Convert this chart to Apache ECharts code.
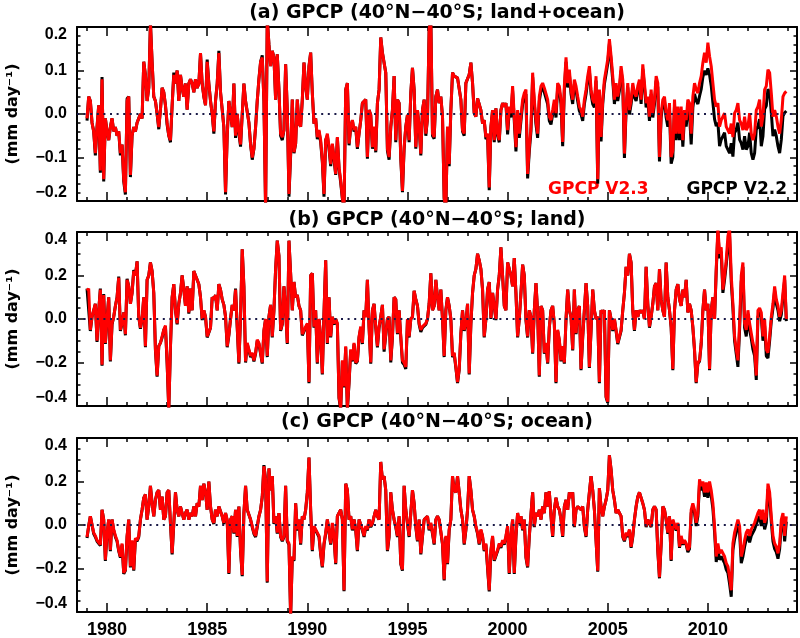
<!DOCTYPE html>
<html><head><meta charset="utf-8">
<script src="https://cdn.jsdelivr.net/npm/echarts@6/dist/echarts.min.js"></script>
<style>html,body{margin:0;padding:0;background:#fff}#c{width:800px;height:638px}</style>
</head><body><div id="c"></div>
<script>
// ---------- data (monthly anomalies, mm/day, Jan 1979 - Dec 2013) ----------
const startYear = 1979;
const xLabelYears = [1980,1985,1990,1995,2000,2005,2010];
const yTicksA = [-0.2,-0.1,0,0.1,0.2];
const yTicksBC = [-0.4,-0.2,0,0.2,0.4];
const panelTitles = ['(a) GPCP (40\u00B0N\u221240\u00B0S; land+ocean)','(b) GPCP (40\u00B0N\u221240\u00B0S; land)','(c) GPCP (40\u00B0N\u221240\u00B0S; ocean)'];
const seriesNames = ['GPCP V2.2','GPCP V2.3'];
const yAxisName = '(mm day\u207B\u00B9)';

const aV23 = [
-.01,.04,.03,-.02,-.04,-.09,-.03,.02,-.13,.08,-.15,-.01,
-.04,-.06,-.03,-.01,-.04,-.03,-.05,-.04,-.09,-.07,-.15,-.18,
.03,.04,-.14,-.05,-.03,-.04,-.02,-.01,0,-.01,.12,.09,
.03,.06,.21,.12,.04,.03,0,-.03,.01,.06,.05,.02,
-.02,-.05,-.06,.02,.09,.07,.1,.03,.09,.06,.04,.07,
.01,.07,.08,.07,.05,.08,.06,.07,.14,.07,.04,.02,
.12,.07,.03,0,-.04,.03,.07,.14,.05,.01,-.03,-.18,
-.05,.03,.03,-.03,.07,-.05,0,-.04,-.07,0,.07,.03,
.03,-.02,-.07,-.1,-.08,-.03,.03,.08,.12,.13,.03,-.22,
.22,.16,.11,.145,.13,.033,.137,.056,-.045,-.053,-.037,.114,
.009,-.184,-.091,.033,-.088,-.068,.033,-.022,-.029,.033,.118,.064,
.033,.11,.141,.048,-.022,-.01,-.053,-.037,-.06,-.107,-.184,-.06,
-.045,-.076,-.115,-.068,-.099,-.138,-.053,-.122,-.153,-.192,-.22,.056,
.071,-.068,-.029,-.014,-.037,-.029,-.076,-.045,-.014,.025,.029,.033,
-.099,.009,-.002,-.076,-.029,-.084,.025,.056,.176,.141,.145,.095,
-.08,-.099,-.029,.009,.087,-.06,.033,.025,-.099,-.177,-.076,-.029,
-.002,-.06,.048,.106,.056,-.076,.009,-.029,-.091,.009,.033,-.045,
-.01,.195,.22,-.045,-.053,.04,.056,.025,.04,-.006,-.192,-.22,
-.029,-.115,.009,.095,.087,.083,.083,.079,.033,-.037,-.045,.071,
.075,.091,.118,.071,.002,-.006,.036,.033,.009,-.022,-.014,-.053,
-.045,-.169,-.029,.009,-.06,.013,-.045,-.06,.009,.025,.017,.025,
-.037,.017,.002,.064,.064,-.076,.009,-.045,-.006,.033,.048,.056,
-.138,-.076,-.03,.095,.033,-.014,-.045,.04,.064,.071,.06,.056,
.033,-.006,-.014,.009,.033,.002,.071,.064,.033,-.064,.064,.13,
.071,.102,.056,.033,.079,.064,.04,.017,.009,-.006,.033,.056,
.087,.11,.056,.033,.025,.087,-.15,.056,-.053,.033,.079,.102,
.126,.172,.133,.087,.033,.071,.04,.064,.11,.079,-.091,.017,
.071,.009,.033,.071,.048,.04,.064,.079,.033,.114,.071,.025,
.04,-.006,.056,.002,.033,.087,.071,-.099,.002,.033,.04,.002,
-.014,.025,-.099,-.084,.033,-.045,.017,-.045,.017,-.06,.009,-.014,
.033,.025,-.045,.04,.071,.056,.048,.071,.087,.118,.141,.118,
.164,.133,.11,.071,.033,.017,.025,-.029,-.014,-.006,.002,-.029,
-.029,-.045,-.022,-.053,.002,.009,.025,-.014,-.022,-.037,-.006,-.037,
-.029,.002,-.045,-.06,-.045,.009,.017,.033,-.029,-.006,.056,.064,
.102,.095,.048,-.006,.009,-.006,-.029,-.045,-.014,.04,.048,.052];

const aV22 = [
-.015,.04,.03,-.02,-.04,-.095,-.03,.02,-.135,.085,-.155,-.01,
-.04,-.06,-.03,-.01,-.04,-.03,-.05,-.04,-.095,-.07,-.155,-.185,
.035,.04,-.145,-.05,-.03,-.04,-.02,-.01,0,-.01,.12,.09,
.03,.06,.21,.12,.04,.03,0,-.035,.01,.06,.05,.02,
-.025,-.05,-.065,.02,.095,.07,.1,.03,.09,.06,.04,.07,
.01,.07,.08,.07,.05,.08,.06,.07,.14,.07,.04,.02,
.125,.07,.03,0,-.045,.03,.07,.145,.05,.01,-.03,-.185,
-.05,.03,.03,-.03,.07,-.055,0,-.045,-.075,0,.07,.03,
.03,-.02,-.07,-.105,-.08,-.03,.03,.08,.12,.135,.03,-.22,
.22,.16,.11,.145,.13,.033,.137,.056,-.05,-.06,-.037,.114,
.009,-.19,-.095,.033,-.09,-.068,.033,-.022,-.029,.033,.118,.064,
.033,.11,.141,.048,-.022,-.01,-.058,-.04,-.065,-.11,-.19,-.06,
-.05,-.08,-.12,-.07,-.105,-.14,-.055,-.125,-.158,-.195,-.22,.056,
.071,-.072,-.03,-.015,-.04,-.03,-.08,-.045,-.015,.025,.029,.033,
-.103,.009,-.002,-.08,-.03,-.088,.025,.056,.176,.141,.145,.095,
-.085,-.105,-.03,.009,.087,-.065,.033,.025,-.103,-.18,-.08,-.03,
-.002,-.065,.048,.106,.056,-.08,.009,-.03,-.095,.009,.033,-.05,
-.01,.195,.22,-.05,-.057,.04,.056,.025,.04,-.006,-.195,-.22,
-.03,-.12,.009,.095,.087,.083,.083,.079,.033,-.04,-.05,.071,
.075,.091,.118,.071,.002,-.006,.036,.033,.009,-.022,-.014,-.058,
-.05,-.175,-.03,.009,-.065,.013,-.05,-.065,.009,.025,.017,.025,
-.047,.007,-.008,.054,.054,-.086,-.001,-.055,-.016,.023,.038,.046,
-.148,-.086,-.04,.085,.023,-.024,-.055,.03,.054,.061,.05,.046,
.023,-.016,-.024,-.001,.023,-.008,.061,.054,.023,-.074,.054,.12,
.061,.092,.046,.023,.069,.054,.03,.007,-.001,-.016,.023,.046,
.077,.1,.046,.023,.015,.077,-.16,.046,-.063,.023,.069,.092,
.116,.162,.123,.077,.023,.061,.03,.054,.1,.069,-.101,.007,
.061,-.001,.023,.061,.038,.03,.054,.069,.023,.104,.061,.015,
.03,-.016,.046,-.008,.023,.077,.061,-.109,-.008,.023,.03,-.008,
-.029,.01,-.114,-.099,.018,-.06,.002,-.06,.002,-.075,-.006,-.029,
.01,0,-.07,.015,.046,.031,.023,.041,.057,.085,.1,.09,
.105,.09,.065,.026,-.012,-.028,-.02,-.074,-.059,-.051,-.043,-.074,
-.074,-.09,-.067,-.098,-.043,-.036,-.02,-.059,-.067,-.082,-.051,-.082,
-.074,-.043,-.09,-.105,-.09,-.036,-.028,-.012,-.074,-.051,.011,.019,
.057,.05,.003,-.051,-.036,-.051,-.074,-.09,-.059,-.005,.003,.007];

const bV23 = [
.13,.14,-.05,.01,.04,.07,-.1,.04,.135,-.21,.11,-.11,
0,.1,-.19,-.02,.01,.06,.1,.19,-.05,-.02,.03,-.07,
.18,.15,.07,.12,.22,.2,.265,.01,-.04,0,.1,-.125,
.18,.2,.26,.22,.12,-.14,-.26,-.125,-.11,-.08,-.05,-.03,
-.2,-.42,-.125,.1,.16,.04,-.02,.07,.12,.2,.135,.06,
.15,.03,.14,.04,.22,.2,.18,.16,.1,0,.04,.01,
-.08,-.08,-.04,.1,.09,.11,.04,.16,.135,.09,.065,.01,
-.125,-.07,0,.065,.04,.135,-.035,-.2,.01,.32,.15,-.195,
-.11,-.14,-.17,-.155,-.19,-.155,-.095,-.11,-.155,-.2,-.05,0,
-.17,.01,.065,-.08,.04,.23,.36,.29,-.05,-.02,.15,.04,
-.11,.36,.21,.04,.17,.1,.11,.06,.04,-.07,-.065,-.035,
-.02,-.29,.2,.21,-.035,.04,-.2,0,-.08,-.25,.03,.27,
-.11,.1,-.08,.01,-.02,0,-.02,-.36,-.41,-.19,-.31,-.125,
-.41,-.29,-.14,-.19,-.11,-.2,-.19,-.08,-.035,-.11,.04,.01,
.18,-.035,-.2,.04,.07,-.035,-.125,-.035,.01,.065,-.14,-.14,
0,.01,-.19,-.08,.1,.09,-.065,.04,-.08,-.19,-.2,-.22,
0,-.08,0,.01,.13,.09,.06,-.02,-.05,-.035,-.035,-.02,
0,.07,.21,.04,.06,.18,.1,.04,.135,0,-.17,.04,
.1,.06,0,-.17,-.155,-.22,-.29,-.23,-.065,.04,-.05,-.02,
.07,-.25,-.02,.12,.2,.23,.3,.27,.23,.135,-.08,0,
.135,.17,.005,.12,.06,0,.135,.2,.33,.2,.06,.04,
.26,.265,.2,.15,.28,.12,-.08,0,.12,.25,.2,0,
-.08,.04,.01,-.155,.04,.165,.03,-.26,.06,.04,-.155,-.11,
-.2,-.035,.04,.06,-.02,-.29,-.05,-.095,-.19,-.125,-.2,0,
.135,.04,.01,-.14,.135,-.065,.04,.06,-.23,-.08,.04,.165,
.06,-.22,-.05,.135,.04,0,.01,-.29,.04,.03,.04,-.355,
-.38,.04,0,-.05,0,-.05,-.11,-.11,-.05,.04,.12,.24,
.2,.3,.26,.04,-.05,.04,.01,.04,.03,.04,0,.24,
.07,-.035,.01,.07,.15,.165,.04,.23,.09,.04,.01,.26,
.1,.04,-.035,-.23,.04,.135,.16,.09,.06,.135,.1,.18,
.03,.07,.04,-.035,-.14,-.29,-.2,-.19,-.11,.04,.135,.04,
.07,-.23,.04,.1,0,.23,.42,.3,.33,.135,.2,.27,
.38,.42,.2,.07,-.08,-.14,-.19,-.02,.2,.26,-.02,-.05,
.04,-.02,-.065,-.11,-.14,-.26,.04,.05,.03,-.08,0,-.14,
-.155,-.08,.01,.07,.15,.09,.06,.01,.04,.04,.2,0];

const bV22 = [
.14,.145,-.055,.01,.04,.07,-.105,.04,.14,-.215,.115,-.115,
0,.1,-.195,-.025,.01,.06,.1,.195,-.055,-.02,.03,-.075,
.185,.15,.07,.12,.225,.2,.265,.01,-.045,0,.1,-.13,
.18,.2,.26,.22,.12,-.145,-.265,-.125,-.11,-.085,-.05,-.035,
-.205,-.42,-.13,.1,.16,.04,-.025,.07,.12,.2,.135,.06,
.15,.025,.14,.04,.22,.2,.18,.16,.1,-.005,.04,.01,
-.085,-.085,-.04,.1,.09,.11,.04,.16,.135,.09,.065,.01,
-.13,-.075,0,.065,.04,.14,-.04,-.205,.01,.32,.15,-.2,
-.115,-.145,-.175,-.16,-.195,-.16,-.1,-.115,-.16,-.205,-.055,0,
-.175,.01,.065,-.085,.04,.23,.36,.29,-.055,-.025,.15,.04,
-.115,.36,.21,.04,.17,.1,.11,.06,.04,-.075,-.07,-.04,
-.025,-.295,.2,.21,-.04,.04,-.205,0,-.085,-.255,.03,.27,
-.115,.1,-.085,.01,-.025,0,-.025,-.365,-.42,-.195,-.315,-.13,
-.42,-.295,-.145,-.195,-.115,-.205,-.195,-.085,-.04,-.115,.04,.01,
.18,-.04,-.205,.04,.07,-.04,-.13,-.04,.01,.065,-.15,-.15,
0,.01,-.2,-.085,.1,.09,-.07,.04,-.085,-.2,-.21,-.23,
-.005,-.085,0,.01,.13,.09,.06,-.025,-.06,-.04,-.04,-.025,
0,.07,.21,.04,.06,.18,.1,.04,.135,0,-.175,.04,
.1,.06,0,-.175,-.16,-.225,-.295,-.235,-.07,.04,-.055,-.025,
.07,-.255,-.025,.12,.2,.23,.3,.27,.23,.135,-.085,0,
.135,.17,0,.12,.06,-.005,.135,.2,.33,.2,.06,.04,
.26,.265,.2,.15,.28,.12,-.085,0,.12,.25,.2,-.005,
-.085,.04,.01,-.16,.04,.165,.03,-.265,.06,.04,-.16,-.115,
-.205,-.04,.04,.06,-.025,-.295,-.055,-.1,-.195,-.13,-.205,0,
.135,.04,.01,-.145,.135,-.07,.04,.06,-.235,-.085,.04,.165,
.06,-.225,-.055,.135,.04,0,.01,-.295,.04,.03,.04,-.36,
-.385,.04,0,-.055,0,-.055,-.115,-.115,-.055,.04,.12,.24,
.2,.3,.26,.04,-.055,.04,.01,.04,.03,.04,0,.24,
.07,-.04,.01,.07,.15,.165,.04,.23,.09,.04,.01,.26,
.1,.04,-.04,-.235,.04,.135,.16,.09,.06,.135,.1,.18,
.03,.07,.04,-.04,-.145,-.295,-.205,-.195,-.115,.04,.135,.04,
.07,-.235,.04,.1,0,.22,.4,.28,.31,.12,.18,.25,
.34,.38,.17,.05,-.1,-.16,-.22,-.05,.17,.24,-.04,-.08,
.02,-.05,-.09,-.14,-.17,-.28,.01,.03,.01,-.1,-.03,-.17,
-.18,-.1,-.01,.05,.13,.07,.04,-.01,.02,.02,.18,-.01];

const cV23 = [
-.055,-.005,.04,.045,-.035,-.05,-.07,-.075,-.09,.07,.025,-.16,
-.035,.025,-.115,.025,-.02,-.05,-.07,-.115,-.145,-.085,-.22,-.205,
-.05,.025,-.19,-.07,-.205,-.06,-.07,-.05,.025,.07,.125,.14,
.025,.085,.18,.1,.04,.115,.15,.16,.07,.13,.025,.04,
.15,.16,.01,-.13,.01,.15,.07,.04,.085,.055,.025,.055,
.07,.025,.055,.04,.085,.04,.1,.085,.18,.115,.19,.15,
.07,.2,.085,.025,.01,.07,.04,.085,.085,.04,.01,.055,
.025,-.22,.025,.04,-.035,.07,-.05,.085,-.115,-.23,.055,.18,
.07,.07,.025,-.005,-.035,-.05,-.005,.04,.07,.13,.27,.21,
-.26,.26,.16,.225,.01,.04,-.035,.055,-.05,-.07,-.05,.18,
-.07,-.085,-.42,-.145,-.16,.1,-.02,.025,-.085,.04,.025,.07,
.15,.31,.07,-.115,-.005,-.02,-.02,-.05,-.13,-.19,-.085,-.035,
.025,.025,-.085,.01,-.05,-.175,.04,.055,.07,.025,-.3,.19,
.16,.025,.04,-.02,.025,-.02,-.115,.025,.025,-.02,-.05,-.005,
-.02,.025,-.005,.01,.04,.07,.04,.025,.29,.21,.225,.16,
-.115,-.05,.15,.07,.025,-.005,-.05,.04,-.175,-.205,.18,.07,
.01,-.05,.055,.16,.1,-.005,-.07,.025,-.13,-.05,.025,.025,
.04,-.02,.01,-.035,-.085,.025,.04,.025,.025,-.085,-.25,-.05,
-.175,-.02,.025,.225,.16,.15,.225,.15,.07,.025,-.085,-.02,
.07,.225,.16,.07,.04,-.005,-.035,-.085,-.02,-.05,-.115,-.085,
-.085,-.3,-.115,-.05,-.16,-.16,-.115,-.085,-.1,-.07,-.085,-.05,
-.005,-.22,-.05,.025,-.22,-.05,.055,.01,.04,-.02,.025,-.145,
-.19,-.05,-.05,.15,-.005,.055,.04,.07,.025,.085,.055,.15,
.085,.155,.04,-.05,.07,.125,.085,.07,.025,-.05,.085,.115,
.07,.15,.125,.15,-.005,.07,.085,.085,.07,.085,-.005,-.05,
.07,.15,.225,.16,.07,.07,-.21,.17,.085,.04,.085,.115,
.16,.32,.255,.16,.115,.055,.07,.07,.04,-.05,-.07,-.035,
-.05,-.02,-.1,-.05,.025,.085,.13,.15,.155,.1,.07,-.005,
.025,.01,-.005,.07,.085,.07,-.115,-.24,-.085,.085,.07,.025,
-.035,.04,-.16,.025,.025,-.02,.01,-.1,-.05,-.085,-.07,-.085,
-.115,-.1,.07,.1,.07,.01,.055,.21,.18,.2,.15,.195,
.15,.2,.16,.1,-.005,-.145,-.085,-.13,-.115,-.115,-.145,-.175,
-.19,-.24,-.3,-.085,-.035,-.005,.025,-.005,-.145,-.115,-.07,-.035,
-.02,-.05,-.02,-.02,.01,.01,.055,.07,.025,.07,.01,.04,
.19,.15,.04,-.05,-.085,-.1,-.13,-.085,.025,.055,-.05,.04];

const cV22 = [
-.06,-.005,.04,.045,-.04,-.055,-.075,-.08,-.095,.07,.025,-.165,
-.04,.025,-.12,.025,-.025,-.055,-.075,-.12,-.15,-.09,-.225,-.21,
-.055,.025,-.195,-.075,-.21,-.065,-.075,-.055,.025,.07,.125,.14,
.025,.085,.18,.1,.04,.115,.15,.16,.07,.13,.025,.04,
.15,.16,.005,-.135,.005,.15,.07,.04,.085,.055,.025,.055,
.07,.025,.055,.04,.085,.04,.1,.085,.18,.115,.19,.15,
.07,.2,.085,.025,.005,.07,.04,.085,.085,.04,.005,.055,
.02,-.225,.025,.04,-.04,.07,-.055,.085,-.12,-.235,.055,.18,
.07,.07,.025,-.01,-.04,-.055,-.01,.04,.07,.13,.275,.21,
-.265,.26,.16,.225,.005,.04,-.04,.055,-.055,-.075,-.055,.18,
-.075,-.09,-.42,-.15,-.165,.1,-.025,.025,-.09,.04,.025,.07,
.15,.31,.07,-.12,-.01,-.025,-.025,-.055,-.135,-.195,-.09,-.04,
.025,.025,-.09,.005,-.055,-.18,.04,.055,.07,.025,-.305,.19,
.16,.025,.04,-.025,.025,-.025,-.12,.025,.025,-.025,-.055,-.01,
-.025,.025,-.01,.005,.04,.07,.04,.025,.29,.21,.225,.16,
-.12,-.055,.15,.07,.025,-.01,-.055,.04,-.18,-.21,.18,.07,
.005,-.055,.055,.16,.1,-.01,-.075,.025,-.135,-.055,.025,.025,
.04,-.025,.005,-.04,-.09,.025,.04,.025,.025,-.09,-.255,-.055,
-.18,-.025,.025,.225,.16,.15,.225,.15,.07,.025,-.09,-.025,
.07,.225,.16,.07,.04,-.01,-.04,-.09,-.025,-.055,-.12,-.09,
-.09,-.305,-.12,-.055,-.165,-.165,-.12,-.09,-.105,-.075,-.09,-.055,
-.01,-.225,-.055,.025,-.225,-.055,.055,.005,.04,-.025,.025,-.15,
-.195,-.055,-.055,.15,-.01,.055,.04,.07,.025,.085,.055,.15,
.085,.155,.04,-.055,.07,.125,.085,.07,.025,-.055,.085,.115,
.07,.15,.125,.15,-.01,.07,.085,.085,.07,.085,-.01,-.055,
.07,.15,.225,.16,.07,.07,-.215,.17,.085,.04,.085,.115,
.16,.32,.255,.16,.115,.055,.07,.07,.04,-.055,-.075,-.04,
-.055,-.025,-.105,-.055,.025,.085,.13,.15,.155,.1,.07,-.01,
.025,.005,-.01,.07,.085,.07,-.12,-.245,-.09,.085,.07,.025,
-.04,.04,-.165,.02,.02,-.025,.005,-.105,-.055,-.09,-.075,-.09,
-.125,-.11,.055,.085,.055,-.005,.04,.19,.16,.18,.13,.175,
.125,.175,.135,.075,-.03,-.17,-.11,-.16,-.145,-.145,-.175,-.205,
-.22,-.27,-.33,-.115,-.065,-.035,-.005,-.035,-.175,-.145,-.1,-.065,
-.05,-.08,-.05,-.05,-.02,-.02,.025,.04,-.005,.04,-.02,.01,
.165,.125,.015,-.075,-.11,-.125,-.155,-.11,0,.03,-.075,.015];

// ---------- layout / style ----------
const panels = [
  {v22:aV22, v23:aV23, ticks:yTicksA, minorStep:0.02, top:27},
  {v22:bV22, v23:bV23, ticks:yTicksBC, minorStep:0.05, top:232},
  {v22:cV22, v23:cV23, ticks:yTicksBC, minorStep:0.05, top:438}
];
const PH = 174, GL = 77, GW = 720;
const xMin = 1978.5, xMax = 2014.45;
const titleY = [13, 220, 422];
const xMinorYears = [];
for (let y = 1979; y <= 2014; y++) xMinorYears.push(y);

function minorList(lo, hi, step){
  const out = []; const n = Math.round((hi-lo)/step);
  for (let i = 0; i <= n; i++) out.push(+(lo + i*step).toFixed(4));
  return out;
}
function toXY(arr){ return arr.map((v,i)=>[startYear + i/12, v]); }
const fmtY = v => (v < 0 ? '\u2212' : '') + Math.abs(v).toFixed(1);

const grids = [], xAxes = [], yAxes = [], series = [];
panels.forEach((p, g) => {
  grids.push({left:GL, top:p.top, width:GW, height:PH, outerBoundsMode:'none', containLabel:false});
  const lo = p.ticks[0], hi = p.ticks[p.ticks.length-1];
  const minors = minorList(lo, hi, p.minorStep);
  [['bottom',true],['bottom',false],['top',true],['top',false]].forEach(([pos, major]) => {
    xAxes.push({
      type:'value', gridIndex:g, position:pos, min:xMin, max:xMax,
      axisLine:{show:major, onZero:false, lineStyle:{color:'#000', width:2}},
      axisTick:{show:true, inside:true, length: major ? 9 : 4, customValues: major ? xLabelYears : xMinorYears,
                lineStyle:{color:'#000', width:1.5}},
      axisLabel:{show: major && pos === 'bottom' && g === 2, customValues:xLabelYears, margin:9,
                 color:'#000', fontFamily:'Liberation Sans', fontWeight:'bold', fontSize:18,
                 formatter: v => String(Math.round(v))},
      splitLine:{show:false}
    });
  });
  [['left',true],['left',false],['right',true],['right',false]].forEach(([pos, major]) => {
    const ax = {
      type:'value', gridIndex:g, position:pos, min:lo, max:hi,
      axisLine:{show:major, onZero:false, lineStyle:{color:'#000', width:2}},
      axisTick:{show:true, inside:true, length: major ? 7 : 3.5, customValues: major ? p.ticks : minors,
                lineStyle:{color:'#000', width:1.5}},
      axisLabel:{show: major && pos === 'left', customValues:p.ticks, margin:10, color:'#000',
                 fontFamily:'Liberation Sans', fontWeight:'bold', fontSize:16, formatter: fmtY,
                 verticalAlignMaxLabel:'top', verticalAlignMinLabel:'bottom'},
      splitLine:{show:false}
    };
    if (major && pos === 'left') {
      ax.name = yAxisName;
      ax.nameLocation = 'middle';
      ax.nameRotate = 90;
      ax.nameGap = 56;
      ax.nameTextStyle = {color:'#000', fontFamily:'DejaVu Sans', fontWeight:'bold', fontSize:16};
    }
    yAxes.push(ax);
  });
  series.push({
    name:seriesNames[0], type:'line', xAxisIndex:4*g, yAxisIndex:4*g, data:toXY(p.v22),
    showSymbol:false, symbol:'none', clip:true, lineStyle:{color:'#000', width:3}, itemStyle:{color:'#000'},
    markLine:{silent:true, symbol:'none', label:{show:false}, animation:false,
      lineStyle:{color:'#1a1a48', type:[2,4.6], width:2}, data:[{yAxis:0}]}
  });
  series.push({
    name:seriesNames[1], type:'line', xAxisIndex:4*g, yAxisIndex:4*g, data:toXY(p.v23),
    showSymbol:false, symbol:'none', clip:true, lineStyle:{color:'#ff0000', width:3}, itemStyle:{color:'#ff0000'}
  });
});

const graphics = panelTitles.map((t, i) => ({
  type:'text', x:437, y:titleY[i], silent:true,
  style:{text:t, align:'center', verticalAlign:'middle', fontFamily:'DejaVu Sans', fontWeight:'bold', fontSize:19, fill:'#000'}
}));
graphics.push({type:'text', x:548, y:190, silent:true,
  style:{text:seriesNames[1], align:'left', verticalAlign:'middle', fontFamily:'DejaVu Sans', fontWeight:'bold', fontSize:17, fill:'#ff0000'}});
graphics.push({type:'text', x:787, y:190, silent:true,
  style:{text:seriesNames[0], align:'right', verticalAlign:'middle', fontFamily:'DejaVu Sans', fontWeight:'bold', fontSize:17, fill:'#000'}});

const chart = echarts.init(document.getElementById('c'), null, {renderer:'canvas'});
chart.setOption({
  animation:false,
  backgroundColor:'#fff',
  grid:grids, xAxis:xAxes, yAxis:yAxes, series:series, graphic:graphics
});
</script></body></html>
